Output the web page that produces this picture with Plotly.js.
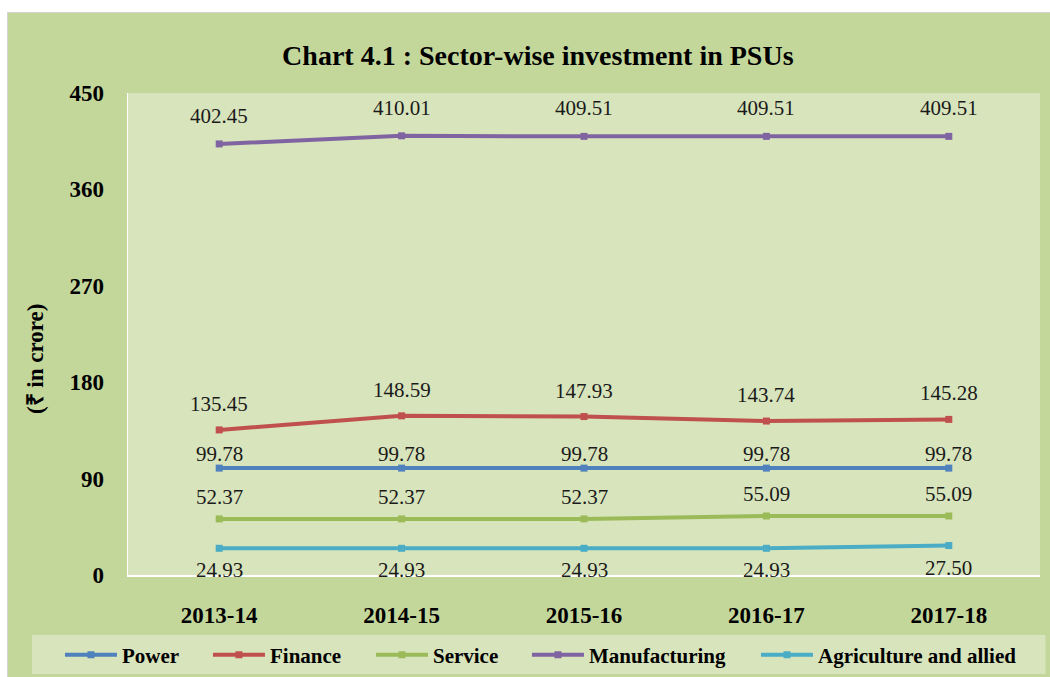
<!DOCTYPE html>
<html>
<head>
<meta charset="utf-8">
<script src="https://cdn.plot.ly/plotly-3.0.1.min.js"></script>
<style>
html,body{margin:0;padding:0;background:#ffffff;}
#chart{position:absolute;left:7px;top:12px;width:1043px;height:665px;border-left:1px solid #d4d4d4;border-top:1px solid #d4d4d4;}
</style>
</head>
<body>
<div id="chart"></div>
<script>
var categories = ['2013-14','2014-15','2015-16','2016-17','2017-18'];
var seriesNames = ['Power','Finance','Service','Manufacturing','Agriculture and allied'];
var power = [99.78, 99.78, 99.78, 99.78, 99.78];
var finance = [135.45, 148.59, 147.93, 143.74, 145.28];
var service = [52.37, 52.37, 52.37, 55.09, 55.09];
var manufacturing = [402.45, 410.01, 409.51, 409.51, 409.51];
var agriculture = [24.93, 24.93, 24.93, 24.93, 27.50];
var yTicks = [0, 90, 180, 270, 360, 450];

var values = [power, finance, service, manufacturing, agriculture];
var colors = ['#4f81bd','#c0504d','#9bbb59','#8064a2','#4bacc6'];
var labelShift = [14, 26, 22, 28, -22];
var legendWidths = [81, 96, 89, 162, 215];
var serif = 'Liberation Serif, Tinos, Times New Roman, serif';

var traces = values.map(function(v, i){
  return {
    x: categories, y: v, name: seriesNames[i], type: 'scatter', mode: 'lines+markers',
    line: {color: colors[i], width: 4},
    marker: {color: colors[i], size: 7, symbol: 'square'},
    legendwidth: legendWidths[i],
    hoverinfo: 'skip'
  };
});

var annotations = [];
values.forEach(function(v, i){
  v.forEach(function(val, j){
    annotations.push({
      x: categories[j], y: val, xref: 'x', yref: 'y',
      text: val.toFixed(2), showarrow: false,
      yshift: labelShift[i], xanchor: 'center', yanchor: 'middle',
      font: {family: serif, size: 21, color: '#1a1a1a'}
    });
  });
});
annotations.push({
  xref: 'paper', yref: 'paper', x: -0.102, y: 0.45, textangle: -90,
  text: '<b>(₹ in crore)</b>', showarrow: false, xanchor: 'center', yanchor: 'middle',
  font: {family: serif, size: 23, color: '#000000'}
});

var layout = {
  width: 1043, height: 665,
  paper_bgcolor: '#c4d79b', plot_bgcolor: '#d8e4bc',
  margin: {l: 120, r: 11, t: 80, b: 103, autoexpand: false},
  title: {text: '<b>Chart 4.1 : Sector-wise investment in PSUs</b>', xref: 'container', yref: 'container',
          x: 0.508, y: 0.937, xanchor: 'center', yanchor: 'middle',
          font: {family: serif, size: 28, color: '#000000'}},
  xaxis: {type: 'category', categoryorder: 'array', categoryarray: categories,
          range: [-0.5, 4.5], showgrid: false, zeroline: false,
          showline: true, linecolor: '#ffffff', linewidth: 1.5,
          ticks: '', ticklabelstandoff: 19,
          tickfont: {family: serif, size: 23, color: '#000000', weight: 'bold'}},
  yaxis: {range: [0, 450], tickvals: yTicks, ticktext: yTicks.map(String), showgrid: false, zeroline: false,
          showline: true, linecolor: '#ffffff', linewidth: 1.5,
          ticks: '', ticklabelstandoff: 18,
          tickfont: {family: serif, size: 23, color: '#000000', weight: 'bold'}},
  showlegend: true,
  legend: {orientation: 'h', x: -0.0746, xanchor: 'left', y: -0.166, yanchor: 'middle',
           itemwidth: 52,
           bgcolor: 'rgba(0,0,0,0)', borderwidth: 0, traceorder: 'normal',
           font: {family: serif, size: 21, color: '#000000', weight: 'bold'}},
  shapes: [{type: 'rect', xref: 'paper', yref: 'paper', x0: -0.1053, x1: 1.006, y0: -0.2054, y1: -0.1245,
            fillcolor: '#d8e4bc', line: {width: 0}, layer: 'below'}],
  annotations: annotations
};

Plotly.newPlot('chart', traces, layout, {displayModeBar: false, staticPlot: true});
</script>
</body>
</html>
